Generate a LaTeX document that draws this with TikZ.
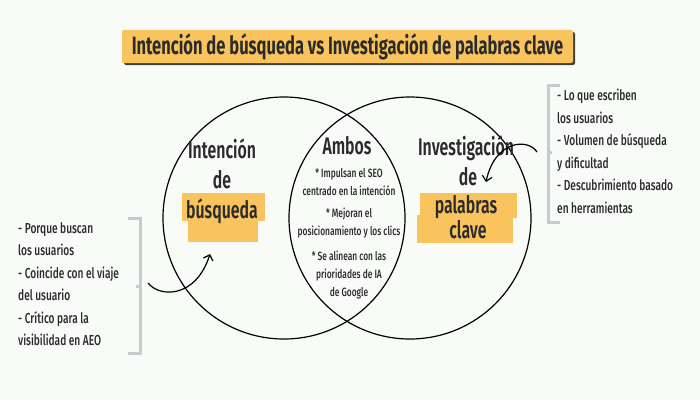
\documentclass[tikz,border=0pt]{standalone}
\usepackage{fontspec}
\setmainfont{Fira Sans}[FakeStretch=0.72]
\newfontfamily\headfont{Fira Sans}[FakeStretch=0.66, UprightFont=* SemiBold, BoldFont=* Bold]
\newfontfamily\listfont{Fira Sans}[FakeStretch=0.7, UprightFont=* Medium]
\usepackage{tikz}
\usetikzlibrary{arrows.meta, positioning}
\definecolor{hlyellow}{HTML}{F9C45E}
\definecolor{ink}{HTML}{2B2B2B}
\definecolor{bracketgray}{HTML}{C9CBCB}
\definecolor{paper}{HTML}{F8FBF8}
\tikzstyle{head} = [text=ink, font=\headfont\fontsize{24}{28}\selectfont, inner sep=0pt]
\tikzstyle{both} = [text=ink, font=\listfont\fontsize{12}{18}\selectfont, inner sep=0pt, align=center]
\tikzstyle{list} = [text=ink, font=\listfont\fontsize{14.5}{22.5}\selectfont, inner sep=0pt, align=left, anchor=north west]
\tikzstyle{arrow} = [line width=1.2pt, -{Straight Barb[length=5pt, width=10pt]}]
\tikzstyle{brace} = [bracketgray, line width=3pt]

\begin{document}
\begin{tikzpicture}[x=1pt, y=-1pt]
        \fill[paper] (0,0) rectangle (700,400);
        \useasboundingbox (0,0) rectangle (700,400);

        % title
        \fill[black!75, rounded corners=2pt] (124,32) rectangle (575,65);
        \node (title) [fill=hlyellow, rounded corners=2pt, minimum width=451pt, minimum height=33pt, text=ink, font=\headfont\bfseries\fontsize{25}{28}\selectfont] at (347.5,46.5) {Intención de búsqueda vs Investigación de palabras clave};

        % circles
        \draw[line width=1.2pt] (284,218) circle (121pt);
        \draw[line width=1.2pt] (410,218) circle (121pt);

        % highlights
        \fill[hlyellow] (182,193) rectangle (265,221);
        \fill[hlyellow] (188,217) rectangle (258,242);
        \fill[hlyellow] (420,193) rectangle (517,218);
        \fill[hlyellow] (417,215) rectangle (513,243);

        \node (intent) [head] at (222,149) {Intención};
        \node (lde) [head] at (222,180) {de};
        \node (busq) [head] at (222,211) {búsqueda};

        \node (invest) [head] at (466,148) {Investigación};
        \node (rde) [head] at (468,177) {de};
        \node (pal) [head] at (466,207) {palabras};
        \node (clave) [head] at (468,230) {clave};

        \node (ambos) [head] at (347,146) {Ambos};
        \node (b1) [both] at (349,182) {* Impulsan el SEO\\centrado en la intención};
        \node (b2) [both] at (349,223.5) {* Mejoran el\\posicionamiento y los clics};
        \node (b3) [both] at (349,275) {* Se alinean con las\\prioridades de IA\\de Google};

        % side lists
        \node (leftlist) [list] at (18,222) {- Porque buscan\\los usuarios\\- Coincide con el viaje\\del usuario\\- Crítico para la\\visibilidad en AEO};
        \node (rightlist) [list] at (557,89) {- Lo que escriben\\los usuarios\\- Volumen de búsqueda\\y dificultad\\- Descubrimiento basado\\en herramientas};

        \draw[brace] (128,218) -- (140,218) -- (140,353) -- (128,353);
        \draw[brace] (136,286) -- (140,286);
        \draw[brace] (560,85) -- (548,85) -- (548,222) -- (560,222);
        \draw[brace] (548,152) -- (552,152);

        % arrows
        \coordinate (lstart) at (148,283);
        \coordinate (ltip) at (210,254);
        \coordinate (rstart) at (537,152);
        \coordinate (rtip) at (486,182);
        \draw[arrow] (lstart) .. controls (160,298) and (196,298) .. (ltip);
        \draw[arrow] (rstart) .. controls (528,138) and (495,140) .. (rtip);
\end{tikzpicture}
\end{document}
